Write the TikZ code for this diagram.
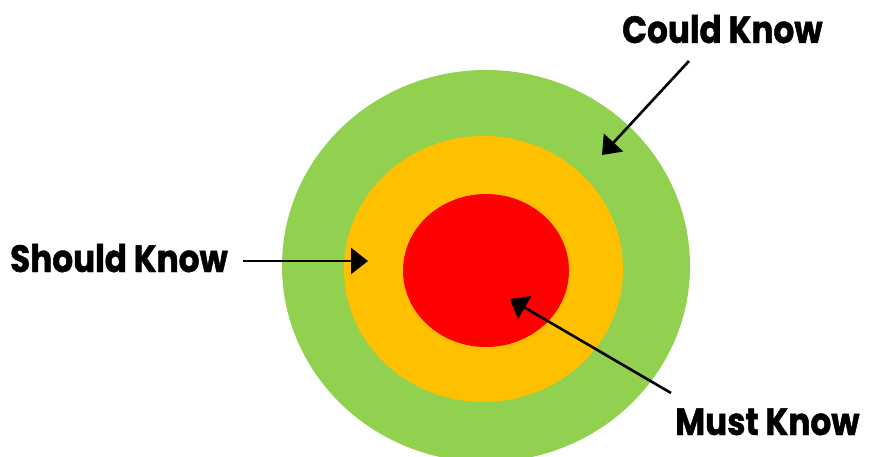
\documentclass[tikz,border=0pt]{standalone}
\usepackage{fontspec}
\newfontfamily\labfont{Poppins}[FakeStretch=0.86,FakeBold=1.2]
\usetikzlibrary{arrows.meta,shapes.geometric}
\definecolor{ringgreen}{HTML}{92D050}
\definecolor{ringorange}{HTML}{FFC000}
\definecolor{ringred}{HTML}{FF0000}
\tikzset{
  ring/.style={ellipse, inner sep=0pt, draw=none},
  lab/.style={inner sep=0pt, anchor=base west, font=\labfont\bfseries\fontsize{38}{40}\selectfont},
  pointer/.style={line width=2.6pt, -{Triangle[length=17pt,width=26pt]}}
}
\begin{document}
\begin{tikzpicture}[x=1pt,y=-1pt]
\useasboundingbox (0,0) rectangle (870,457);
\node[ring, fill=ringgreen, minimum width=408pt, minimum height=392pt] (green) at (486,266) {};
\node[ring, fill=ringorange, minimum width=279pt, minimum height=266pt] (orange) at (483.5,269) {};
\node[ring, fill=ringred, minimum width=166pt, minimum height=153pt] (red) at (486,270.5) {};
\node[lab] (should) at (10,272) {Should Know};
\node[lab] (could) at (622,43) {Could Know};
\node[lab] (must) at (675,435) {Must Know};
\coordinate (s0) at (243,261);
\coordinate (s1) at (368,261);
\coordinate (c0) at (689,61);
\coordinate (c1) at (602,155);
\coordinate (m0) at (671,393);
\coordinate (m1) at (510,299);
\draw[pointer] (s0) -- (s1);
\draw[pointer] (c0) -- (c1);
\draw[pointer] (m0) -- (m1);
\end{tikzpicture}
\end{document}
